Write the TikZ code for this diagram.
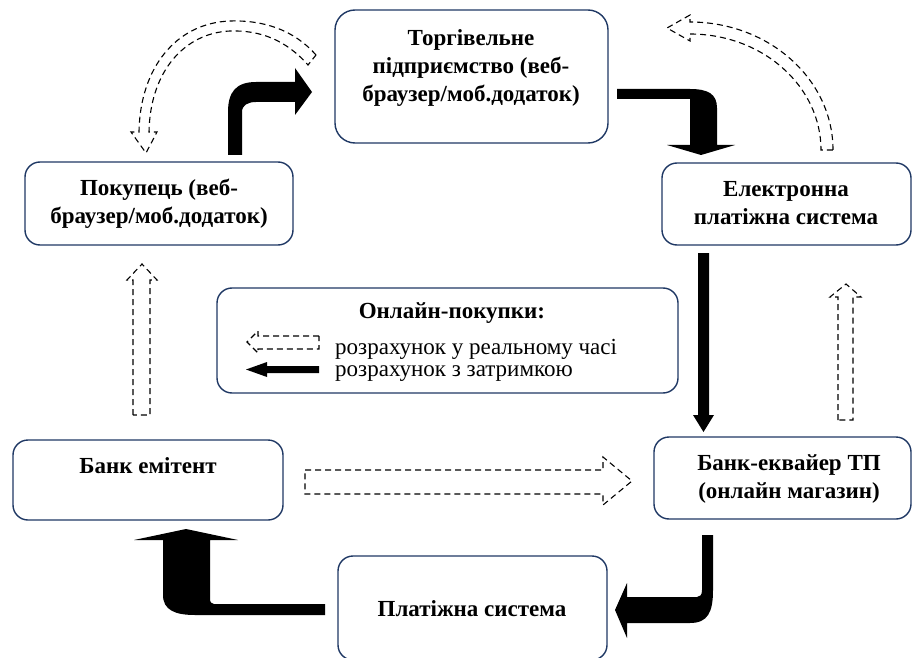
\documentclass[tikz,border=0pt]{standalone}
\usepackage{fontspec}
\setmainfont{Liberation Serif}
\definecolor{boxblue}{RGB}{31,56,100}
\begin{document}
\begin{tikzpicture}[x=1pt,y=-1pt,
  box/.style={draw=boxblue, line width=1.4pt, rounded corners=15pt, inner sep=0pt, fill=white},
  lbl/.style={font=\bfseries\fontsize{23}{28}\selectfont, align=center, inner sep=0pt},
  leg/.style={font=\fontsize{23}{22}\selectfont, align=left, inner sep=0pt},
  hollow/.style={draw=black, line width=1.1pt, dash pattern=on 6pt off 4pt, fill=white},
  solidarrow/.style={fill=black, draw=none}]
\useasboundingbox (0,0) rectangle (913,658);
\clip (0,0) rectangle (913,658);

% participants
\node[box, rounded corners=20pt, minimum width=273pt, minimum height=133pt] (torg)  at (471.5,76.5) {};
\node[box, minimum width=268pt, minimum height=83pt]  (pokup) at (159,203.5) {};
\node[box, minimum width=249pt, minimum height=82pt]  (elek)  at (786.5,204) {};
\node[box, minimum width=461pt, minimum height=105pt] (legend) at (447.5,340.5) {};
\node[box, minimum width=270pt, minimum height=80pt]  (emit)  at (148,480) {};
\node[box, minimum width=257pt, minimum height=82pt]  (ekv)   at (782.5,478) {};
\node[box, minimum width=269pt, minimum height=104pt] (plat)  at (472.5,608) {};

\node[lbl] (torgtxt)  at (471,68)  {Торгівельне\\підприємство (веб-\\браузер/моб.додаток)};
\node[lbl] (pokuptxt) at (159,204) {Покупець (веб-\\браузер/моб.додаток)};
\node[lbl] (elektxt)  at (786,203) {Електронна\\платіжна система};
\node[lbl] (emittxt)  at (148,466) {Банк емітент};
\node[lbl] (ekvtxt)   at (789,479) {Банк-еквайер ТП\\(онлайн магазин)};
\node[lbl] (plattxt)  at (472,609) {Платіжна система};

% legend
\node[lbl] (legtitle) at (452,313) {Онлайн-покупки:};
\node[leg, anchor=west] (legitems) at (335,360) {розрахунок у реальному часі\\розрахунок з затримкою};
\draw[hollow] (319,336) -- (258,336) -- (258,331) -- (247,342) -- (258,353) -- (258,349) -- (319,349) -- cycle;
\fill[solidarrow] (319,366) -- (267,366) -- (267,362) -- (246,369.5) -- (267,377) -- (267,373) -- (319,373) -- cycle;

% delayed settlement: solid block arrows
\fill[solidarrow] (228,155) -- (228,112) .. controls (228,92) and (236,82) .. (256,82) -- (295,82)
  -- (295,68) -- (312,92) -- (295,115) -- (295,102) -- (256,102)
  .. controls (248,102) and (242,105) .. (242,112) -- (242,155) -- cycle;
\fill[solidarrow] (617,89) -- (690,89) .. controls (708,89) and (717,94) .. (717,108) -- (717,145)
  -- (735,145) -- (701,155) -- (667,145) -- (690,145) -- (690,99) -- (617,99) -- cycle;
\fill[solidarrow] (698,253) -- (709,253) -- (709,415) -- (714,415) -- (703.5,432) -- (693,415) -- (698,415) -- cycle;
\fill[solidarrow] (702,535) -- (713,535) -- (713,590) .. controls (713,612) and (708,623) .. (690,623)
  -- (627,623) -- (627,638) -- (615,610) -- (627,583) -- (627,597) -- (697,597)
  .. controls (700,597) and (702,595) .. (702,590) -- cycle;
\fill[solidarrow] (325,604) -- (214,604) .. controls (211,604) and (210,602) .. (210,598) -- (210,540)
  -- (238,540) -- (186,529) -- (134,540) -- (163,540) -- (163,595)
  .. controls (163,610) and (175,615) .. (195,615) -- (325,615) -- cycle;

% real-time settlement: hollow dashed arrows
\draw[hollow] (316,55) .. controls (294,30) and (264,20) .. (230,21)
  .. controls (176,23) and (140,68) .. (139,132)
  -- (131,132) -- (146,153) -- (157,132) -- (149,132)
  .. controls (150,72) and (184,33) .. (230,31)
  .. controls (260,30) and (286,40) .. (308,65) -- cycle;
\draw[hollow] (833,150) arc[start angle=0, end angle=-90, x radius=143, y radius=128]
  -- (690,15) -- (667,28) -- (690,41) -- (690,34)
  arc[start angle=-90, end angle=0, x radius=131, y radius=116] -- cycle;
\draw[hollow] (133,415) -- (133,280) -- (127,280) -- (142,264) -- (157,280) -- (150,280) -- (150,415) -- cycle;
\draw[hollow] (838,420) -- (838,297) -- (830,297) -- (846,284) -- (861,297) -- (853,297) -- (853,420) -- cycle;
\draw[hollow] (305,470) -- (603,470) -- (603,457) -- (632,481) -- (603,505) -- (603,494) -- (305,494) -- cycle;
\end{tikzpicture}
\end{document}
